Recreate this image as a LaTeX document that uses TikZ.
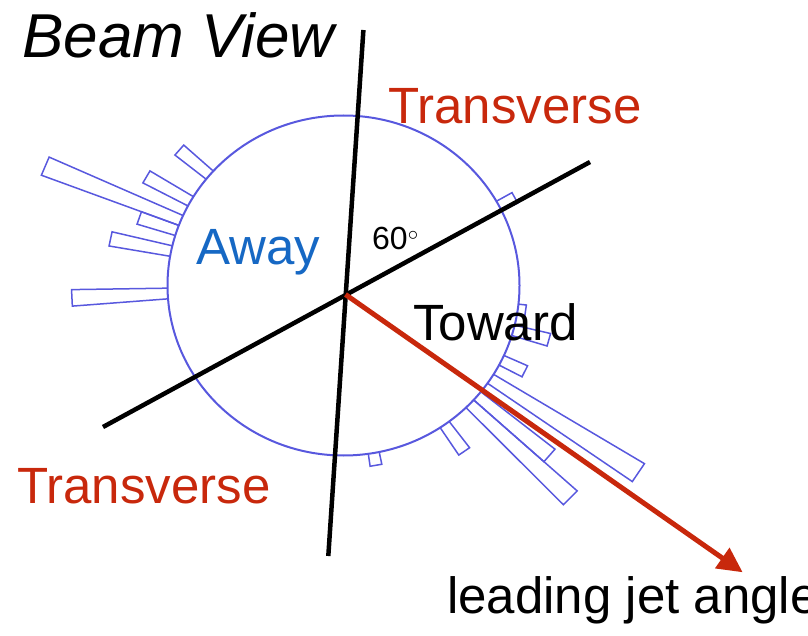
\documentclass[tikz,border=0pt]{standalone}
\usepackage{fontspec}
\setmainfont{Liberation Sans}
\usetikzlibrary{arrows.meta}
\definecolor{jetred}{RGB}{200,40,12}
\definecolor{histblue}{RGB}{88,88,222}
\definecolor{awayblue}{RGB}{22,104,196}
\begin{document}
\begin{tikzpicture}[
    x=1pt, y=-1pt,
    label text/.style={anchor=base west, inner sep=0pt, font=\fontsize{51}{60}\selectfont},
    axis/.style={line width=4.5pt},
    bar/.style={histblue, line width=1.5pt, line join=miter}
  ]
  \useasboundingbox (0,0) rectangle (808,636);

  % histogram ring (polar bins of 3.6 deg)
  \begin{scope}[shift={(343.5,285.5)}, x=1pt, y=0.966pt]
    \draw[histblue, line width=2pt] (0,0) ellipse[x radius=176pt, y radius=170pt];
    \foreach \a/\r in {139.5/216, 150.3/227, 157.5/323, 161.1/216, 168.3/238, 182.7/272,
                       27.9/194, -8.1/184, -15.3/213, -26.1/202, -33.3/353,
                       -40.5/271, -44.1/316, -54.9/210, -80.1/189}
      \draw[bar] ({\a-1.8}:176) -- ({\a-1.8}:\r) -- ({\a+1.8}:\r) -- ({\a+1.8}:176);
  \end{scope}

  % transverse region boundaries
  \coordinate (vtop) at (363.4,30);
  \coordinate (vbot) at (328.3,556);
  \coordinate (tleft) at (103,427);
  \coordinate (tright) at (590,162);
  \draw[axis] (vtop) -- (vbot);
  \draw[axis] (tleft) -- (tright);

  % leading jet direction
  \coordinate (vtx) at (345.5,294.5);
  \coordinate (jet) at (742.7,572.3);
  \draw[jetred, line width=5pt, -{Triangle[length=25pt, width=24pt]}] (vtx) -- (jet);

  % labels
  \node[label text, font=\fontsize{62}{72}\selectfont\itshape] (title) at (22,58) {Beam View};
  \node[label text, jetred] (trtop) at (388,124) {Transverse};
  \node[label text, jetred] (trbot) at (17,503) {Transverse};
  \node[label text, awayblue] (away) at (196,265) {Away};
  \node[label text, font=\fontsize{32}{38}\selectfont] (ang) at (372,250) {60$^{\circ}$};
  \node[label text] (toward) at (413,340) {Toward};
  \node[label text] (jetlbl) at (447,613) {leading jet angle};
\end{tikzpicture}
\end{document}
